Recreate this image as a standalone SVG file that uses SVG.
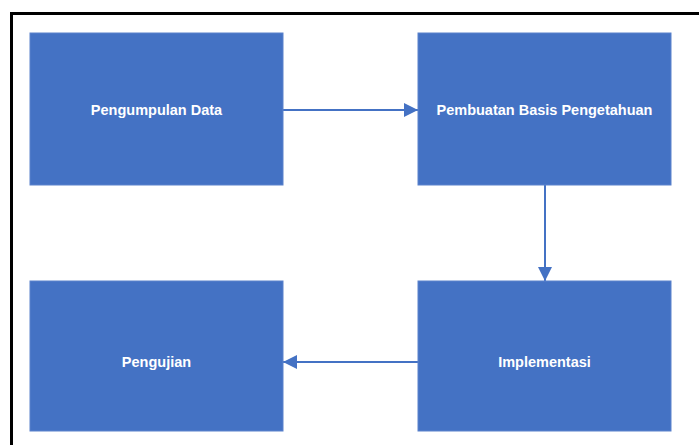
<svg xmlns="http://www.w3.org/2000/svg" width="699" height="445" viewBox="0 0 699 445">
<defs>
<style>
.box{fill:#4472C4;stroke:#5b82cc;stroke-width:1}
.lbl{font-family:"Liberation Sans",Arial,sans-serif;font-weight:bold;font-size:14.5px;fill:#ffffff;text-anchor:middle}
.conn{stroke:#4472C4;stroke-width:2;fill:none}
</style>
<marker id="ah" viewBox="0 0 10 10" refX="10" refY="5" markerWidth="7" markerHeight="7" markerUnits="strokeWidth" orient="auto">
<path d="M0,0 L10,5 L0,10 Z" fill="#4472C4"/>
</marker>
</defs>
<rect x="0" y="0" width="699" height="445" fill="#ffffff"/>
<rect x="11.5" y="13.5" width="700" height="440" fill="none" stroke="#000000" stroke-width="3"/>
<g id="connectors">
<line class="conn" x1="283" y1="110" x2="418" y2="110" marker-end="url(#ah)"/>
<line class="conn" x1="545" y1="185" x2="545" y2="281" marker-end="url(#ah)"/>
<line class="conn" x1="418" y1="362" x2="283" y2="362" marker-end="url(#ah)"/>
</g>
<g id="node-pengumpulan">
<rect class="box" x="30" y="33" width="253" height="152"/>
<text class="lbl" x="156.5" y="115">Pengumpulan Data</text>
</g>
<g id="node-pembuatan">
<rect class="box" x="418" y="33" width="253" height="152"/>
<text class="lbl" x="544.5" y="115">Pembuatan Basis Pengetahuan</text>
</g>
<g id="node-implementasi">
<rect class="box" x="418" y="281" width="253" height="150"/>
<text class="lbl" x="544.5" y="367">Implementasi</text>
</g>
<g id="node-pengujian">
<rect class="box" x="30" y="281" width="253" height="150"/>
<text class="lbl" x="156.5" y="367">Pengujian</text>
</g>
</svg>
